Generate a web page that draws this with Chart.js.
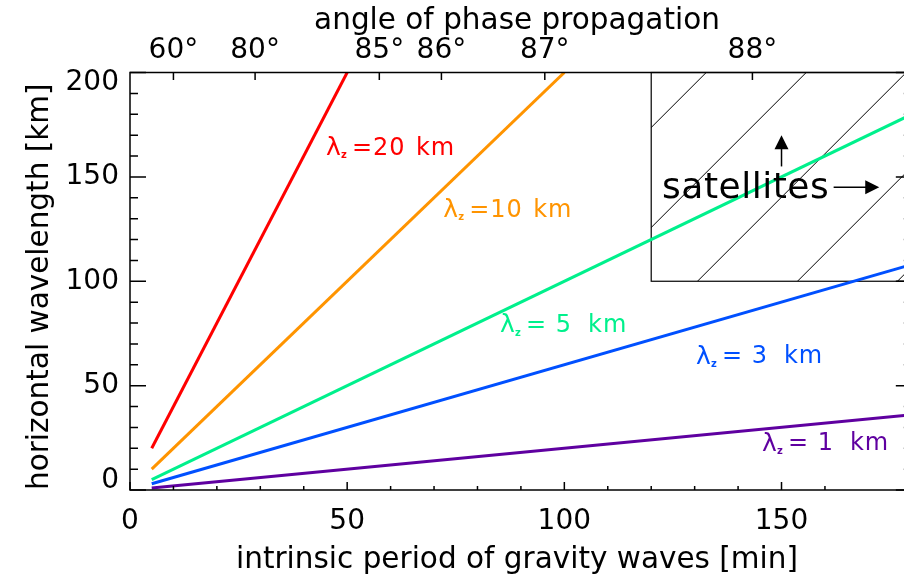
<!DOCTYPE html>
<html lang="en">
<head>
  <meta charset="UTF-8" />
  <title>Gravity wave wavelengths</title>
  <script src="https://cdn.jsdelivr.net/npm/chart.js"></script>
  <style>
    html, body {
      margin: 0;
      background: #fff;
      overflow: hidden;
    }
    canvas {
      display: block;
    }
  </style>
</head>
<body>
  <canvas id="chartWaves" width="904" height="582"></canvas>

  <script>
    // vertical wavelength of each line [km]
    const lambdaZ = [20, 10, 5, 3, 1];
    const lineNums = ["20", "10", " 5", " 3", " 1"];
    // line end points (period [min], horizontal wavelength [km])
    const startPeriod = [5, 5, 5, 5, 5];
    const startWavelength = [20, 10, 5, 3, 1];
    const endPeriod = [50, 100, 180, 180, 180];
    const endWavelength = [200, 200, 180, 108, 36];
    const lineColors = ["#ff0000", "#ff9400", "#00f08c", "#0050ff", "#5f00a0"];

    // top axis: angle of phase propagation at these periods
    const angleLabels = ["60°", "80°", "85°", "86°", "87°", "88°"];
    const anglePeriods = [10, 28.8, 57.4, 71.7, 95.5, 143.3];

    // satellite box
    const boxPeriod = [120, 180];
    const boxWavelength = [100, 200];

    // the frame ends at 180 min, slightly past the picture edge (178.2 min)
    const xFrameMax = 180;
    const xVisibleMax = 178.2;

    Chart.defaults.font.family = "DejaVu Sans";
    Chart.defaults.color = "#000";

    const datasets = lambdaZ.map((lz, i) => ({
      label: "lambda_z " + lz,
      data: [
        { x: startPeriod[i], y: startWavelength[i] },
        { x: endPeriod[i], y: endWavelength[i] }
      ],
      borderColor: lineColors[i],
      borderWidth: 3,
      pointRadius: 0,
      fill: false
    }));

    // label anchors (left edge, vertical middle) in data units
    const labelPos = [
      [45.1, 163.4],
      [72.1, 133.7],
      [85.2, 78.6],
      [130.3, 63.7],
      [145.5, 22.0]
    ];

    const decor = {
      id: "decor",
      beforeDatasetsDraw(chart) {
        const { ctx, scales: { x, y } } = chart;
        const l = x.getPixelForValue(boxPeriod[0]);
        const r = x.getPixelForValue(boxPeriod[1]);
        const t = y.getPixelForValue(boxWavelength[1]);
        const b = y.getPixelForValue(boxWavelength[0]);
        ctx.save();
        ctx.strokeStyle = "#000";
        ctx.lineWidth = 1.2;
        ctx.strokeRect(l, t, r - l, b - t);
        ctx.beginPath();
        ctx.rect(l, t, r - l, b - t);
        ctx.clip();
        ctx.lineWidth = 1;
        ctx.beginPath();
        for (let c = l + t + 55; c < r + b + 100; c += 100) {
          ctx.moveTo(c - t, t);
          ctx.lineTo(c - b, b);
        }
        ctx.stroke();
        ctx.restore();
      },
      afterDatasetsDraw(chart) {
        const { ctx, scales: { x, y } } = chart;
        ctx.save();
        // line labels
        ctx.textBaseline = "middle";
        ctx.textAlign = "left";
        labelPos.forEach((p, i) => {
          const px = x.getPixelForValue(p[0]);
          const py = y.getPixelForValue(p[1]);
          ctx.fillStyle = lineColors[i];
          ctx.letterSpacing = "0px";
          ctx.font = "25px DejaVu Sans";
          ctx.fillText("λ", px, py);
          ctx.font = "bold 10px DejaVu Sans";
          ctx.fillText("z", px + 15, py + 7);
          ctx.font = "24px DejaVu Sans";
          ctx.letterSpacing = "1px";
          ctx.fillText("=" + lineNums[i], px + 26, py);
          ctx.fillText("km", px + (lineNums[i][0] === " " ? 88 : 90), py);
        });

        // satellites text and arrows
        ctx.letterSpacing = "0.5px";
        ctx.fillStyle = "#000";
        ctx.strokeStyle = "#000";
        ctx.font = "36px DejaVu Sans";
        ctx.textBaseline = "alphabetic";
        ctx.fillText("satellites", x.getPixelForValue(122.5), y.getPixelForValue(140));

        ctx.lineWidth = 1.5;
        // up arrow
        const ux = x.getPixelForValue(150);
        const uy0 = y.getPixelForValue(155);
        const uy1 = y.getPixelForValue(170);
        ctx.beginPath();
        ctx.moveTo(ux, uy0);
        ctx.lineTo(ux, uy1 + 10);
        ctx.stroke();
        ctx.beginPath();
        ctx.moveTo(ux, uy1);
        ctx.lineTo(ux - 7, uy1 + 14);
        ctx.lineTo(ux + 7, uy1 + 14);
        ctx.closePath();
        ctx.fill();
        // right arrow
        const ry = y.getPixelForValue(145);
        const rx0 = x.getPixelForValue(162);
        const rx1 = x.getPixelForValue(172.5);
        ctx.beginPath();
        ctx.moveTo(rx0, ry);
        ctx.lineTo(rx1 - 10, ry);
        ctx.stroke();
        ctx.beginPath();
        ctx.moveTo(rx1, ry);
        ctx.lineTo(rx1 - 14, ry - 7);
        ctx.lineTo(rx1 - 14, ry + 7);
        ctx.closePath();
        ctx.fill();
        ctx.restore();
      },
      afterDraw(chart) {
        // frame with inward ticks
        const { ctx, chartArea: a, scales: { x, y, x2 } } = chart;
        const right = x.getPixelForValue(xFrameMax);
        ctx.save();
        ctx.strokeStyle = "#000";
        ctx.lineWidth = 1.5;
        ctx.strokeRect(a.left, a.top, right - a.left, a.bottom - a.top);
        ctx.beginPath();
        x.ticks.filter(t => t.value % 10 === 0).forEach(t => {
          const px = x.getPixelForValue(t.value);
          const len = t.value % 50 === 0 ? 8 : 4;
          ctx.moveTo(px, a.bottom);
          ctx.lineTo(px, a.bottom - len);
        });
        x2.ticks.forEach(t => {
          const px = x2.getPixelForValue(t.value);
          ctx.moveTo(px, a.top);
          ctx.lineTo(px, a.top + 7.5);
        });
        y.ticks.forEach(t => {
          const py = y.getPixelForValue(t.value);
          const len = t.value % 50 === 0 ? 16 : 8;
          ctx.moveTo(a.left, py);
          ctx.lineTo(a.left + len, py);
          ctx.moveTo(right, py);
          ctx.lineTo(right - len, py);
        });
        ctx.stroke();
        ctx.restore();
      }
    };

    // keep the horizontal axes from reserving side padding for their labels
    const fixHeight = h => s => {
      s.height = h;
      s.paddingLeft = 0;
      s.paddingRight = 0;
    };

    new Chart(document.getElementById("chartWaves"), {
      type: "line",
      data: { datasets: datasets },
      plugins: [decor],
      options: {
        responsive: false,
        animation: false,
        devicePixelRatio: 1,
        layout: { padding: 0 },
        plugins: {
          legend: { display: false },
          tooltip: { enabled: false }
        },
        scales: {
          x: {
            type: "linear",
            position: "bottom",
            min: 0,
            max: xVisibleMax,
            afterFit: fixHeight(92),
            grid: { display: false, drawTicks: false },
            border: { display: false },
            ticks: {
              stepSize: 10,
              autoSkip: false,
              maxRotation: 0,
              padding: 15,
              font: { size: 28 },
              callback: v => (v % 50 === 0 ? v : "")
            },
            title: {
              display: true,
              text: "intrinsic period of gravity waves [min]",
              font: { size: 29.5 },
              padding: { top: 0, bottom: 4 }
            }
          },
          x2: {
            type: "linear",
            position: "top",
            min: 0,
            max: xVisibleMax,
            afterFit: fixHeight(72.5),
            afterBuildTicks: s => { s.ticks = anglePeriods.map(v => ({ value: v })); },
            grid: { display: false, drawTicks: false },
            border: { display: false },
            ticks: {
              autoSkip: false,
              maxRotation: 0,
              padding: 5,
              font: { size: 28 },
              callback: (v, i) => angleLabels[i]
            },
            title: {
              display: true,
              text: "angle of phase propagation",
              font: { size: 29.5 },
              padding: { top: 4, bottom: 0 }
            }
          },
          y: {
            type: "linear",
            position: "left",
            min: 0,
            max: 200,
            afterFit: s => { s.width = 130; },
            grid: { display: false, drawTicks: false },
            border: { display: false },
            ticks: {
              stepSize: 10,
              autoSkip: false,
              padding: 11,
              // end labels sit inside the frame, as in the original plot
              font: c => ({
                size: 28,
                lineHeight: c.tick && c.tick.value === 0 ? 18 / 28 : (c.tick && c.tick.value === 200 ? 20 / 28 : 1.2)
              }),
              callback: v => {
                if (v === 0) return ["0", ""];
                if (v === 200) return ["", "200"];
                return v % 50 === 0 ? String(v) : "";
              }
            },
            title: {
              display: true,
              text: "horizontal wavelength [km]",
              align: "start",
              font: { size: 29.5 },
              padding: { top: 23, bottom: 0 }
            }
          }
        }
      }
    });
  </script>
</body>
</html>
